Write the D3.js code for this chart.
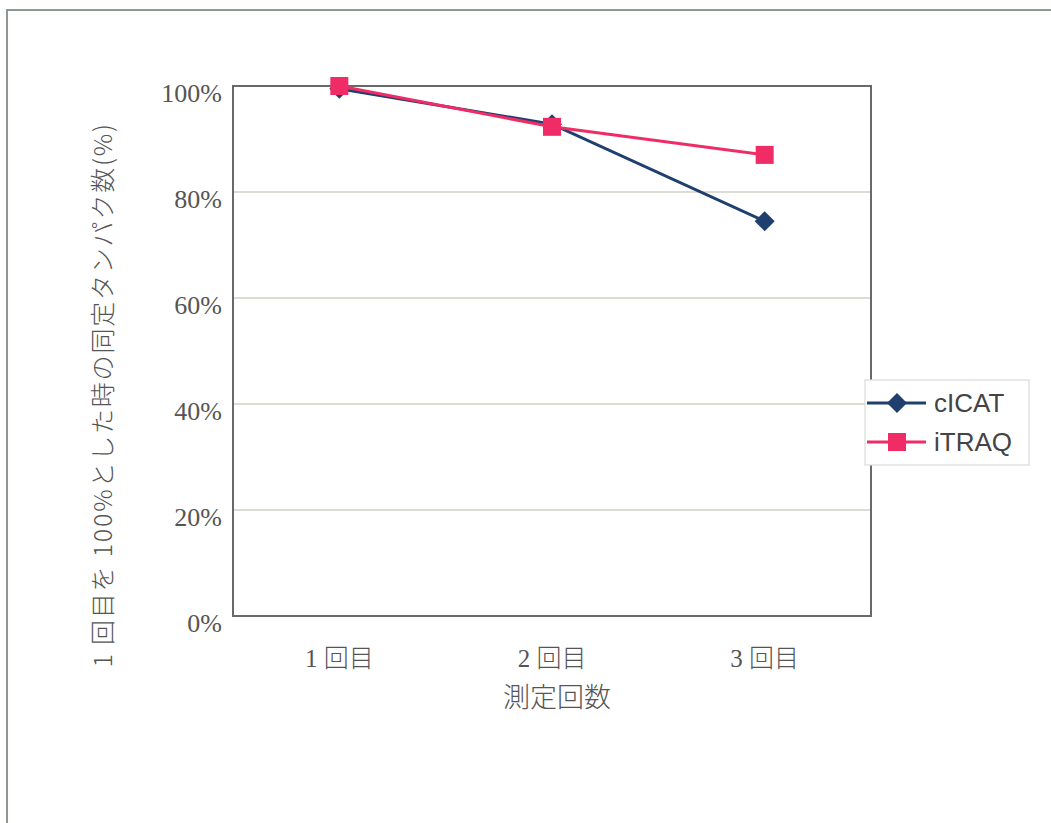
<!DOCTYPE html>
<html>
<head>
<meta charset="utf-8">
<script src="https://cdn.jsdelivr.net/npm/d3@7"></script>
<style>
  html, body { margin: 0; padding: 0; background: #fff; }
  svg { display: block; }
</style>
</head>
<body>
<svg id="chart" width="1051" height="823"></svg>
<script>
// Measurement rounds and identified-protein ratios (1st round = 100%)
const categories = ["1 回目", "2 回目", "3 回目"];
const cicatValues = [99.5, 92.8, 74.5];
const itraqValues = [100, 92.3, 87.0];
const yTicks = [0, 20, 40, 60, 80, 100];
const seriesNames = ["cICAT", "iTRAQ"];

const svg = d3.select("#chart");
const W = 1051, H = 823;

// page frame
svg.append("path")
  .attr("d", `M7,${H} L7,10 L${W},10`)
  .attr("fill", "none").attr("stroke", "#8b9a8e").attr("stroke-width", 2);

const plot = { left: 233, right: 871, top: 86, bottom: 616 };

const x = d3.scaleBand().domain(categories).range([plot.left, plot.right]);
const y = d3.scaleLinear().domain([0, 100]).range([plot.bottom, plot.top]);
const cx = c => x(c) + x.bandwidth() / 2;

// gridlines
svg.append("g")
  .selectAll("line").data(yTicks.filter(t => t > 0 && t < 100)).join("line")
  .attr("x1", plot.left).attr("x2", plot.right)
  .attr("y1", d => y(d)).attr("y2", d => y(d))
  .attr("stroke", "#cfd0c4").attr("stroke-width", 1.3);

// plot area border
svg.append("rect")
  .attr("x", plot.left).attr("y", plot.top)
  .attr("width", plot.right - plot.left).attr("height", plot.bottom - plot.top)
  .attr("fill", "none").attr("stroke", "#666b68").attr("stroke-width", 2);

// y axis
const yAxis = d3.axisLeft(y).tickValues(yTicks).tickSize(0).tickPadding(11)
  .tickFormat(d => d + "%");
const gy = svg.append("g").attr("transform", `translate(${plot.left},0)`).call(yAxis);
gy.select(".domain").remove();
gy.selectAll("text")
  .attr("font-family", "'Liberation Serif', 'DejaVu Serif', serif")
  .attr("font-size", 26).attr("fill", "#555").attr("dy", "0.6em");

// x axis
const xAxis = d3.axisBottom(x).tickSize(0).tickPadding(33);
const gx = svg.append("g").attr("transform", `translate(0,${plot.bottom})`).call(xAxis);
gx.select(".domain").remove();
gx.selectAll("text")
  .attr("font-family", "'Liberation Serif', 'Noto Sans CJK JP', serif")
  .attr("font-size", 25).attr("font-weight", 300).attr("fill", "#555");

// axis titles
svg.append("text")
  .attr("x", 557).attr("y", 707)
  .attr("text-anchor", "middle")
  .attr("font-family", "'Noto Sans CJK JP', sans-serif")
  .attr("font-size", 27).attr("font-weight", 300).attr("fill", "#555")
  .text("測定回数");

svg.append("text")
  .attr("transform", "translate(112,395) rotate(-90)")
  .attr("text-anchor", "middle")
  .attr("font-family", "'Noto Sans CJK JP', sans-serif")
  .attr("font-size", 25).attr("font-weight", 300).attr("fill", "#555")
  .attr("letter-spacing", 1.8)
  .text("1 回目を 100%とした時の同定タンパク数(%)");

// series
const colors = { cICAT: "#1f3f6e", iTRAQ: "#f02c66" };
const line = d3.line().x((d, i) => cx(categories[i])).y(d => y(d));

function diamond(g, px, py, s, color) {
  g.append("path")
    .attr("d", `M${px},${py - s} L${px + s},${py} L${px},${py + s} L${px - s},${py} Z`)
    .attr("fill", color);
}
function square(g, px, py, s, color) {
  g.append("rect")
    .attr("x", px - s).attr("y", py - s).attr("width", 2 * s).attr("height", 2 * s)
    .attr("fill", color);
}

const gC = svg.append("g");
gC.append("path").datum(cicatValues).attr("d", line)
  .attr("fill", "none").attr("stroke", colors.cICAT).attr("stroke-width", 3);
cicatValues.forEach((v, i) => diamond(gC, cx(categories[i]), y(v), 10, colors.cICAT));

const gI = svg.append("g");
gI.append("path").datum(itraqValues).attr("d", line)
  .attr("fill", "none").attr("stroke", colors.iTRAQ).attr("stroke-width", 3);
itraqValues.forEach((v, i) => square(gI, cx(categories[i]), y(v), 9, colors.iTRAQ));

// legend
const lg = svg.append("g");
lg.append("rect").attr("x", 865).attr("y", 380).attr("width", 164).attr("height", 85)
  .attr("fill", "#fff").attr("stroke", "#d8dcd8").attr("stroke-width", 1.2);
seriesNames.forEach((name, i) => {
  const ly = 403 + i * 39;
  lg.append("line").attr("x1", 867).attr("x2", 926).attr("y1", ly).attr("y2", ly)
    .attr("stroke", colors[name]).attr("stroke-width", 3);
  if (name === "cICAT") diamond(lg, 897, ly, 10, colors[name]);
  else square(lg, 897, ly, 9, colors[name]);
  lg.append("text").attr("x", 934).attr("y", ly + 9)
    .attr("font-family", "'Liberation Sans', Arial, sans-serif")
    .attr("font-size", 26).attr("fill", "#444").text(name);
});
</script>
</body>
</html>
